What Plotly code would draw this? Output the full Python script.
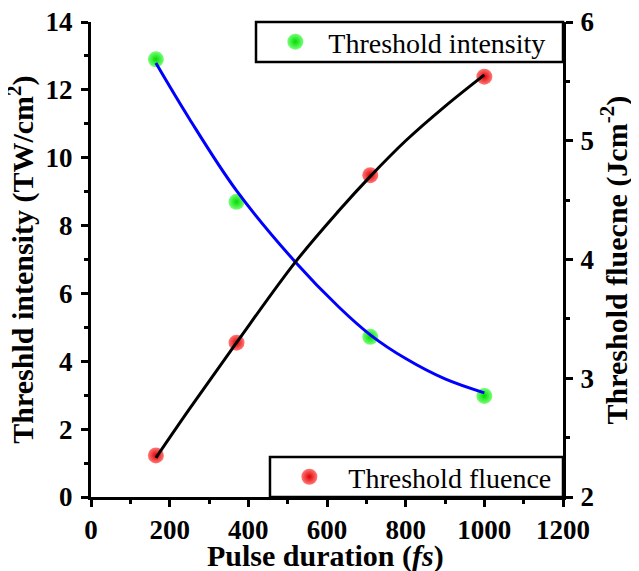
import plotly.graph_objects as go

# Measured data points
pulse_fs = [165, 370, 710, 1000]
intensity = [12.9, 8.7, 4.72, 2.98]          # TW/cm^2 (left axis)
fluence = [2.35, 3.30, 4.71, 5.54]           # J/cm^2 (right axis)

# Fitted curves
fit_x = [165, 250, 370, 520, 630, 710, 800, 900, 1000]
intensity_fit = [12.79, 11.15, 9.03, 6.92, 5.6, 4.78, 4.08, 3.48, 3.07]
fluence_fit = [2.33, 2.74, 3.30, 3.98, 4.41, 4.70, 5.0, 5.29, 5.555]

x_ticks = [0, 200, 400, 600, 800, 1000, 1200]
y_ticks = [0, 2, 4, 6, 8, 10, 12, 14]
y2_ticks = [2, 3, 4, 5, 6]

x_title = "Pulse duration (<i>fs</i>)"
y_title = "Threshld intensity (TW/cm<sup>2</sup>)"
y2_title = "Threshold fluecne (Jcm<sup>-2</sup>)"

FONT = "Liberation Serif"
TICKFONT = dict(family=FONT, size=27, color="black", weight="bold")
TITLEFONT = dict(family=FONT, size=30, color="black", weight="bold")
LEGFONT = dict(family=FONT, size=28, color="black")

fig = go.Figure()

fig.add_trace(go.Scatter(
    x=pulse_fs, y=intensity, mode="markers", name="Threshold intensity",
    marker=dict(size=16, color="#78ff78", line=dict(width=0),
                gradient=dict(type="radial", color="#00dc00")),
    legend="legend", xaxis="x", yaxis="y"))
fig.add_trace(go.Scatter(
    x=fit_x, y=intensity_fit, mode="lines", line=dict(color="#0000ff", width=3, shape="spline"),
    showlegend=False, hoverinfo="skip", xaxis="x", yaxis="y"))

fig.add_trace(go.Scatter(
    x=pulse_fs, y=fluence, mode="markers", name="Threshold fluence",
    marker=dict(size=16, color="#ff7878", line=dict(width=0),
                gradient=dict(type="radial", color="#e00000")),
    legend="legend2", xaxis="x", yaxis="y2"))
fig.add_trace(go.Scatter(
    x=fit_x, y=fluence_fit, mode="lines", line=dict(color="black", width=3, shape="spline"),
    showlegend=False, hoverinfo="skip", xaxis="x", yaxis="y2"))

axis_common = dict(showgrid=False, zeroline=False, showline=True, linecolor="black",
                   linewidth=3, tickcolor="black", tickwidth=2.5, automargin=False,
                   ticklabeloverflow="allow")

fig.update_layout(
    template="none",
    width=631, height=563,
    margin=dict(l=83, r=76, t=14, b=74, autoexpand=False),
    plot_bgcolor="white", paper_bgcolor="white",
    xaxis=dict(range=[0, 1200], tickvals=x_ticks, ticks="outside", ticklen=7, tickfont=TICKFONT,
               minor=dict(dtick=100, ticks="outside", ticklen=4, tickwidth=2.5, tickcolor="black"),
               **axis_common),
    xaxis2=dict(range=[0, 1200], overlaying="x", side="top", tickvals=x_ticks,
                ticks="inside", ticklen=7, showticklabels=False,
                minor=dict(dtick=100, ticks="inside", ticklen=7, tickwidth=2.5, tickcolor="black"),
                **axis_common),
    yaxis=dict(range=[0, 14], tickvals=y_ticks, ticks="outside", ticklen=7, tickfont=TICKFONT,
               ticklabelstandoff=3,
               minor=dict(dtick=1, ticks="outside", ticklen=4, tickwidth=2.5, tickcolor="black"),
               **axis_common),
    yaxis2=dict(range=[2, 6], tickvals=y2_ticks, overlaying="y", side="right",
                ticks="outside", ticklen=7, tickfont=TICKFONT, ticklabelstandoff=2,
                minor=dict(dtick=0.5, ticks="outside", ticklen=4, tickwidth=2.5, tickcolor="black"),
                **axis_common),
    legend=dict(x=0.363, y=0.958, xanchor="left", yanchor="middle", bgcolor="rgba(0,0,0,0)",
                borderwidth=0, font=LEGFONT, itemwidth=56),
    legend2=dict(x=0.38, y=0.042, xanchor="left", yanchor="middle", bgcolor="rgba(0,0,0,0)",
                 borderwidth=0, font=LEGFONT, itemwidth=68),
    shapes=[
        dict(type="rect", xref="paper", yref="paper", x0=0.3496, x1=1, y0=0.9158, y1=1,
             line=dict(color="black", width=2.5), fillcolor="white", layer="above"),
        dict(type="rect", xref="paper", yref="paper", x0=0.3792, x1=1, y0=0, y1=0.0842,
             line=dict(color="black", width=2.5), fillcolor="white", layer="above"),
    ],
    annotations=[
        dict(text=x_title, xref="paper", yref="paper", x=0.497, y=-0.1234,
             xanchor="center", yanchor="middle", showarrow=False, font=TITLEFONT),
        dict(text=y_title, xref="paper", yref="paper", x=-0.1478, y=0.5, textangle=-90,
             xanchor="center", yanchor="middle", showarrow=False, font=TITLEFONT),
        dict(text=y2_title, xref="paper", yref="paper", x=1.11, y=0.5, textangle=-90,
             xanchor="center", yanchor="middle", showarrow=False, font=TITLEFONT),
    ],
)

fig.write_html("out.html")
